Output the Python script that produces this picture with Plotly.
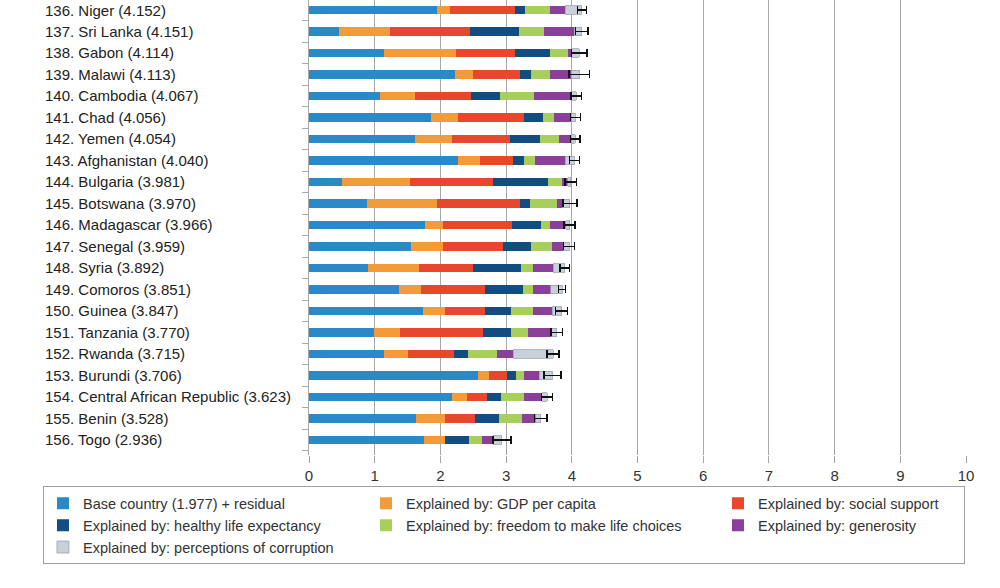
import plotly.graph_objects as go

countries = ["Niger", "Sri Lanka", "Gabon", "Malawi", "Cambodia", "Chad", "Yemen",
             "Afghanistan", "Bulgaria", "Botswana", "Madagascar", "Senegal", "Syria",
             "Comoros", "Guinea", "Tanzania", "Rwanda", "Burundi",
             "Central African Republic", "Benin", "Togo"]
ranks = list(range(136, 157))
scores = [4.152, 4.151, 4.114, 4.113, 4.067, 4.056, 4.054, 4.040, 3.981, 3.970, 3.966,
          3.959, 3.892, 3.851, 3.847, 3.770, 3.715, 3.706, 3.623, 3.528, 2.936]

base = [1.944, 0.460, 1.146, 2.220, 1.074, 1.852, 1.606, 2.261, 0.501, 0.890, 1.760,
        1.555, 0.900, 1.371, 1.734, 0.982, 1.146, 2.578, 2.169, 1.627, 1.749]
gdp = [0.204, 0.778, 1.089, 0.271, 0.532, 0.409, 0.563, 0.337, 1.034, 1.054, 0.286,
       0.491, 0.778, 0.337, 0.332, 0.409, 0.368, 0.159, 0.235, 0.439, 0.317]
social = [0.982, 1.217, 0.906, 0.716, 0.859, 1.013, 0.885, 0.512, 1.268, 1.273, 1.044,
          0.900, 0.818, 0.972, 0.614, 1.259, 0.696, 0.271, 0.307, 0.461, 0.000]
health = [0.154, 0.737, 0.521, 0.169, 0.435, 0.286, 0.465, 0.159, 0.829, 0.149, 0.439,
          0.430, 0.737, 0.583, 0.399, 0.429, 0.215, 0.148, 0.215, 0.358, 0.364]
freedom = [0.384, 0.389, 0.287, 0.292, 0.527, 0.164, 0.287, 0.168, 0.215, 0.409, 0.144,
           0.317, 0.174, 0.144, 0.328, 0.256, 0.439, 0.118, 0.348, 0.358, 0.204]
generosity = [0.230, 0.460, 0.041, 0.322, 0.563, 0.266, 0.184, 0.461, 0.092, 0.082, 0.235,
              0.184, 0.312, 0.276, 0.296, 0.358, 0.241, 0.230, 0.266, 0.205, 0.164]
corruption = [0.254, 0.110, 0.124, 0.123, 0.077, 0.066, 0.064, 0.142, 0.042, 0.113, 0.058,
              0.082, 0.173, 0.168, 0.144, 0.077, 0.610, 0.202, 0.083, 0.080, 0.138]
ci_half = [0.069, 0.097, 0.118, 0.153, 0.082, 0.072, 0.072, 0.074, 0.087, 0.107, 0.082,
           0.082, 0.074, 0.050, 0.092, 0.084, 0.090, 0.128, 0.087, 0.095, 0.136]

series_names = ["Base country (1.977) + residual", "Explained by: GDP per capita",
                "Explained by: social support", "Explained by: healthy life expectancy",
                "Explained by: freedom to make life choices", "Explained by: generosity",
                "Explained by: perceptions of corruption"]
series_values = [base, gdp, social, health, freedom, generosity, corruption]
colors = ["#2a8ac8", "#f29b38", "#e8472d", "#114d80", "#a8cf5c", "#8a3f99", "#c8d0d9"]
groups = ["c1", "c2", "c3", "c1", "c2", "c3", "c1"]
legend_widths = [278, 307, 201, 278, 307, 201, 278]

FONT = "Liberation Sans, Arial, sans-serif"
rows = list(range(len(countries)))

fig = go.Figure()
for i, (name, vals) in enumerate(zip(series_names, series_values)):
    kw = {}
    if i == len(series_names) - 1:
        kw["error_x"] = dict(type="data", array=ci_half, symmetric=True,
                             color="#111111", thickness=1.4, width=4)
        line = dict(color="#9aa4ae", width=0.8)
    else:
        line = dict(width=0)
    fig.add_trace(go.Bar(
        y=rows, x=vals, orientation="h", name=name,
        marker=dict(color=colors[i], line=line),
        legendgroup=groups[i], legendwidth=legend_widths[i],
        **kw))

for r, rank, c, s in zip(rows, ranks, countries, scores):
    fig.add_annotation(x=-0.4049, xref="paper", y=r, yref="y",
                       text=f"{rank}. {c} ({s:.3f})", showarrow=False,
                       xanchor="left", yanchor="middle",
                       font=dict(family=FONT, size=15, color="#222222"))

fig.update_layout(
    width=1000, height=588,
    margin=dict(l=309, r=34, t=0, b=133),
    barmode="stack", bargap=0.62,
    paper_bgcolor="white", plot_bgcolor="white",
    font=dict(family=FONT, size=14, color="#333333"),
    showlegend=True,
    legend=dict(orientation="h", traceorder="grouped",
                x=-0.4049, xanchor="left", y=-0.069, yanchor="top",
                bordercolor="#a0a0a0", borderwidth=1, bgcolor="white",
                font=dict(family=FONT, size=14.5, color="#333333")),
)
fig.update_xaxes(range=[0, 10], dtick=1, tick0=0, showgrid=True, gridcolor="#a8a8a8",
                 gridwidth=1, zeroline=False, ticks="outside", ticklen=7,
                 tickcolor="#a8a8a8", showline=False,
                 tickfont=dict(family=FONT, size=15, color="#333333"))
fig.update_yaxes(range=[20.70, -0.465], showticklabels=False,
                 tickvals=[k + 0.5 for k in range(-1, 21)], ticks="outside",
                 ticklen=6, tickcolor="#a8a8a8", showgrid=False, zeroline=False,
                 showline=True, linecolor="#a8a8a8", linewidth=1)

fig.write_html("out.html", config={"displayModeBar": False},
               post_script="document.body.style.margin='0';document.body.style.overflow='hidden';")
